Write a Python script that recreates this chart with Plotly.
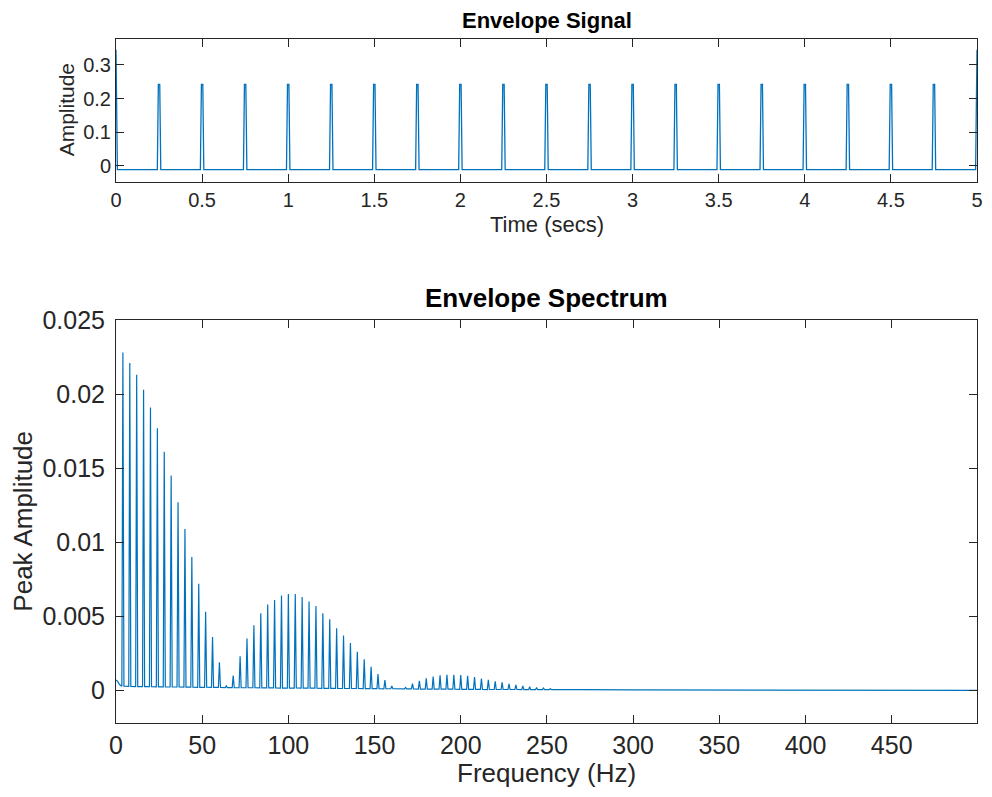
import plotly.graph_objects as go

# ---------------- data ----------------
# Envelope signal (top): impulse train every 0.25 s
spike_times = [0.25, 0.5, 0.75, 1.0, 1.25, 1.5, 1.75, 2.0, 2.25, 2.5,
               2.75, 3.0, 3.25, 3.5, 3.75, 4.0, 4.25, 4.5, 4.75]
spike_heights = [0.242, 0.242, 0.242, 0.242, 0.242, 0.242, 0.242, 0.242, 0.242, 0.242,
                 0.242, 0.242, 0.242, 0.242, 0.242, 0.242, 0.242, 0.242, 0.242]
signal_baseline = -0.011
edge_times = [0.0, 5.0]
edge_heights = [0.345, 0.345]

# Envelope spectrum (bottom): harmonics of 4 Hz
harm_freqs = [4, 8, 12, 16, 20, 24, 28, 32, 36, 40, 44, 48, 52, 56, 60, 64,
              68, 72, 76, 80, 84, 88, 92, 96, 100, 104, 108, 112, 116, 120, 124, 128,
              132, 136, 140, 144, 148, 152, 156, 160, 164, 168, 172, 176, 180, 184, 188, 192,
              196, 200, 204, 208, 212, 216, 220, 224, 228, 232, 236, 240, 244, 248, 252, 256, 260]
harm_peaks = [0.0228, 0.0221, 0.0213, 0.0203, 0.0191, 0.0177, 0.0161, 0.0145,
              0.0127, 0.0109, 0.0090, 0.0072, 0.0053, 0.0036, 0.0019, 0.0003,
              0.0010, 0.0023, 0.0035, 0.0044, 0.0052, 0.0058, 0.0061, 0.0064,
              0.0065, 0.0065, 0.0063, 0.0060, 0.0057, 0.0052, 0.0048, 0.0042,
              0.0037, 0.0032, 0.0026, 0.0021, 0.0016, 0.0011, 0.0007, 0.0003,
              0.0001, 0.0002, 0.00045, 0.00065, 0.00082, 0.00094, 0.00102, 0.00106,
              0.00106, 0.00103, 0.00098, 0.00090, 0.00080, 0.00072, 0.00062, 0.00054,
              0.00045, 0.00038, 0.00031, 0.00025, 0.00020, 0.00016, 0.00012, 0.00010, 0.00008]
harm_floor = [0.00028, 0.00027, 0.00026, 0.00025, 0.00025, 0.00024, 0.00024, 0.00023,
              0.00023, 0.00022, 0.00022, 0.00021, 0.00021, 0.00020, 0.00020, 0.00019,
              0.00019, 0.00018, 0.00018, 0.00018, 0.00017, 0.00017, 0.00017, 0.00016,
              0.00016, 0.00016, 0.00015, 0.00015, 0.00015, 0.00014, 0.00014, 0.00014,
              0.00013, 0.00013, 0.00013, 0.00012, 0.00012, 0.00012, 0.00011, 0.00011,
              0.00010, 0.00010, 0.00010, 0.00009, 0.00009, 0.00009, 0.00008, 0.00008,
              0.00008, 0.00007, 0.00007, 0.00007, 0.00007, 0.00006, 0.00006, 0.00006,
              0.00006, 0.00006, 0.00005, 0.00005, 0.00005, 0.00005, 0.00005, 0.00005, 0.00005]
dc_freqs = [0.0, 1.0, 2.0]
dc_vals = [0.0007, 0.0006, 0.0004]
tail_freqs = [270, 300, 350, 400, 450, 499.5]
tail_vals = [0.00005, 0.00004, 0.00003, 0.00002, 0.00001, 0.0]

top_xticks = [0, 0.5, 1, 1.5, 2, 2.5, 3, 3.5, 4, 4.5, 5]
top_xlabels = ["0", "0.5", "1", "1.5", "2", "2.5", "3", "3.5", "4", "4.5", "5"]
top_yticks = [0, 0.1, 0.2, 0.3]
top_ylabels = ["0", "0.1", "0.2", "0.3"]
bot_xticks = [0, 50, 100, 150, 200, 250, 300, 350, 400, 450]
bot_xlabels = ["0", "50", "100", "150", "200", "250", "300", "350", "400", "450"]
bot_yticks = [0, 0.005, 0.01, 0.015, 0.02, 0.025]
bot_ylabels = ["0", "0.005", "0.01", "0.015", "0.02", "0.025"]

# ---------------- build line geometry from data ----------------
sx, sy = [edge_times[0], 0.008], [edge_heights[0], signal_baseline]
for t, h in zip(spike_times, spike_heights):
    sx += [t - 0.010, t - 0.004, t + 0.004, t + 0.010]
    sy += [signal_baseline, h, h, signal_baseline]
sx += [edge_times[1] - 0.008, edge_times[1]]
sy += [signal_baseline, edge_heights[1]]

fx, fy = list(dc_freqs), list(dc_vals)
for f, p, b in zip(harm_freqs, harm_peaks, harm_floor):
    fx += [f - 0.6, f, f + 0.6]
    fy += [b, p, b]
fx += tail_freqs
fy += tail_vals

BLUE = "#0072BD"
AX = "#262626"
FONT = "Liberation Sans, Arial, Helvetica, sans-serif"

fig = go.Figure()
fig.add_trace(go.Scatter(x=sx, y=sy, mode="lines", line=dict(color=BLUE, width=1.3),
                         xaxis="x", yaxis="y", showlegend=False, hoverinfo="skip",
                         cliponaxis=False))
fig.add_trace(go.Scatter(x=fx, y=fy, mode="lines", line=dict(color=BLUE, width=1.2),
                         xaxis="x2", yaxis="y2", showlegend=False, hoverinfo="skip"))

OFF = 8  # page body offset
W, H = 992 - 2 * OFF, 797 - 2 * OFF
L, T = 116 - OFF, 39 - OFF
R = W - (983 - OFF)
B = H - (723 - OFF)
PW, PH = W - L - R, H - T - B


def px(x):  # reference pixel x -> paper
    return (x - OFF - L) / PW


def py(y):  # reference pixel y -> paper
    return (H - B - (y - OFF)) / PH


common = dict(showline=True, mirror="ticks", linecolor=AX, linewidth=1, ticks="inside",
              tickcolor=AX, ticklen=8, tickwidth=1, showgrid=False, zeroline=False,
              ticklabeloverflow="allow")

fig.update_layout(
    width=W, height=H, margin=dict(l=L, r=R, t=T, b=B),
    paper_bgcolor="white", plot_bgcolor="white",
    xaxis=dict(common, domain=[0, 1], anchor="y", range=[0, 5], tickvals=top_xticks,
               ticktext=top_xlabels, tickfont=dict(family=FONT, color=AX, size=20)),
    yaxis=dict(common, domain=[py(181.7), 1], anchor="x", range=[-0.047, 0.377],
               tickvals=top_yticks, ticktext=top_ylabels,
               tickfont=dict(family=FONT, color=AX, size=20)),
    xaxis2=dict(common, domain=[0, 1], anchor="y2", range=[0, 499.5], tickvals=bot_xticks,
                ticktext=bot_xlabels, tickfont=dict(family=FONT, color=AX, size=25)),
    yaxis2=dict(common, domain=[0, py(320)], anchor="x2", range=[-0.0022, 0.025],
                tickvals=bot_yticks, ticktext=bot_ylabels, ticklabelstandoff=5,
                tickfont=dict(family=FONT, color=AX, size=25)),
)

ann = [
    dict(text="<b>Envelope Signal</b>", x=px(549.5), y=py(20), size=22),
    dict(text="Time (secs)", x=px(549.5), y=py(225), size=22),
    dict(text="Amplitude", x=px(67), y=py(110), size=21, angle=-90),
    dict(text="<b>Envelope Spectrum</b>", x=px(549.5), y=py(298), size=26),
    dict(text="Frequency (Hz)", x=px(549.5), y=py(773), size=26),
    dict(text="Peak Amplitude", x=px(22), y=py(521), size=26, angle=-90),
]
for a in ann:
    fig.add_annotation(text=a["text"], x=a["x"], y=a["y"], xref="paper", yref="paper",
                       xanchor="center", yanchor="middle", showarrow=False,
                       textangle=a.get("angle", 0),
                       font=dict(family=FONT, color="#000000" if "<b>" in a["text"] else AX,
                                 size=a["size"]))

fig.write_html("out.html")
